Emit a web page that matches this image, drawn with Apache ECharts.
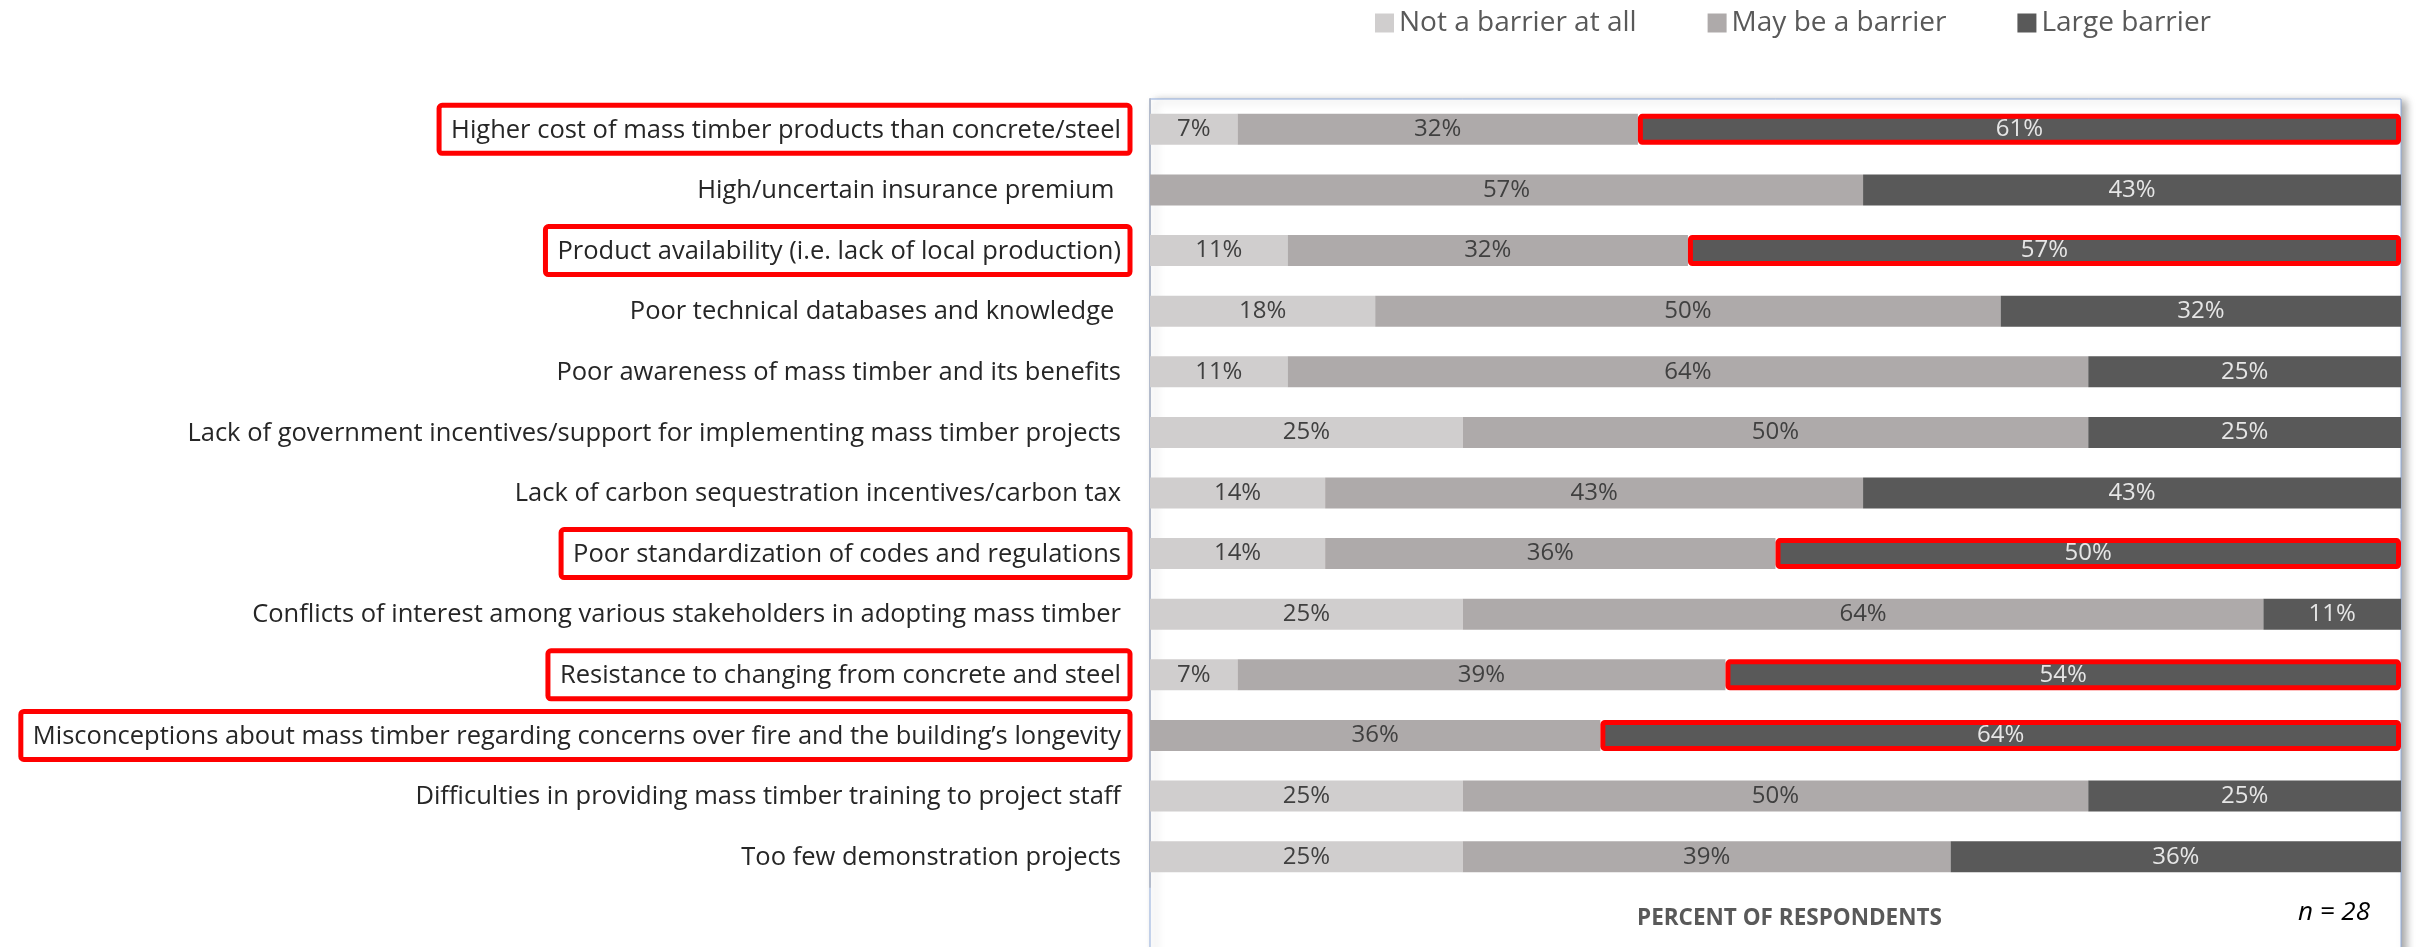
<!DOCTYPE html>
<html>
<head>
<meta charset="utf-8">
<script src="https://cdn.jsdelivr.net/npm/echarts@6/dist/echarts.min.js"></script>
<style>
  html, body { margin: 0; padding: 0; background: #fff; }
  #main { width: 2418px; height: 947px; }
</style>
</head>
<body>
<div id="main"></div>
<script>
// categories, top to bottom
const categories = [
    'Higher cost of mass timber products than concrete/steel',
    'High/uncertain insurance premium ',
    'Product availability (i.e. lack of local production)',
    'Poor technical databases and knowledge ',
    'Poor awareness of mass timber and its benefits',
    'Lack of government incentives/support for implementing mass timber projects',
    'Lack of carbon sequestration incentives/carbon tax',
    'Poor standardization of codes and regulations',
    'Conflicts of interest among various stakeholders in adopting mass timber',
    'Resistance to changing from concrete and steel',
    'Misconceptions about mass timber regarding concerns over fire and the building\u2019s longevity',
    'Difficulties in providing mass timber training to project staff',
    'Too few demonstration projects'
];
const notBarrier = [7, 0, 11, 18, 11, 25, 14, 14, 25, 7, 0, 25, 25];
const mayBarrier = [32, 57, 32, 50, 64, 50, 43, 36, 64, 39, 36, 50, 39];
const largeBarrier = [61, 43, 57, 32, 25, 25, 43, 50, 11, 54, 64, 25, 36];
// rows boxed in red in the original
const highlighted = [0, 2, 7, 9, 10];

const FONT = '"Open Sans", sans-serif';

var chart = echarts.init(document.getElementById('main'));

function pctLabel (color) {
    return {
        show: true,
        position: 'inside',
        color: color,
        fontFamily: FONT,
        fontSize: 24,
        formatter: p => p.value > 0 ? p.value + '%' : ''
    };
}

chart.setOption({
    animation: false,
    legend: {
        top: 4,
        left: 1370,
        itemWidth: 19,
        itemHeight: 19,
        itemGap: 71,
        icon: 'rect',
        textStyle: { fontFamily: FONT, fontSize: 28, color: '#595959' },
        data: ['Not a barrier at all', 'May be a barrier', 'Large barrier']
    },
    graphic: [{
        type: 'rect',
        shape: { x: 1150, y: 99, width: 1251, height: 870 },
        style: {
            fill: '#fff', stroke: '#8eaadb', lineWidth: 1,
            shadowBlur: 8, shadowOffsetX: 5, shadowOffsetY: 2, shadowColor: 'rgba(0,0,0,0.35)'
        },
        z: -1
    }, {
        type: 'text',
        left: 1637,
        top: 907,
        style: { text: 'PERCENT OF RESPONDENTS', fontFamily: FONT, fontSize: 22.5, fontWeight: 'bold', fill: '#595959' }
    }, {
        type: 'text',
        left: 2298,
        top: 900,
        style: { text: 'n = 28', fontFamily: FONT, fontSize: 26, fontStyle: 'italic', fill: '#000' }
    }],
    grid: {
        left: 1150,
        right: 17,
        top: 99,
        height: 788
    },
    xAxis: {
        type: 'value',
        min: 0,
        max: 100,
        show: false
    },
    yAxis: {
        type: 'category',
        inverse: true,
        data: categories,
        axisLine: { show: true, lineStyle: { color: '#b4bccc', width: 2 } },
        axisTick: { show: false },
        axisLabel: {
            margin: 20,
            fontFamily: FONT,
            formatter: (v, i) => (highlighted.indexOf(i) >= 0 ? '{hl|' : '{n|') + v + '}',
            rich: {
                n: {
                    fontFamily: FONT, fontSize: 25.5, color: '#262626',
                    padding: [12, 9, 10, 12], borderWidth: 5, borderColor: 'transparent'
                },
                hl: {
                    fontFamily: FONT, fontSize: 25.5, color: '#262626',
                    padding: [12, 9, 10, 12], borderWidth: 5, borderColor: '#ff0000', borderRadius: 3
                }
            }
        }
    },
    series: [{
        name: 'Not a barrier at all',
        type: 'bar',
        stack: 'total',
        barWidth: 31,
        itemStyle: { color: '#d0cece' },
        label: pctLabel('#404040'),
        data: notBarrier
    }, {
        name: 'May be a barrier',
        type: 'bar',
        stack: 'total',
        itemStyle: { color: '#aeaaaa' },
        label: pctLabel('#404040'),
        data: mayBarrier
    }, {
        name: 'Large barrier',
        type: 'bar',
        stack: 'total',
        itemStyle: { color: '#595959' },
        label: pctLabel('#e6e6e6'),
        data: largeBarrier.map((v, i) => highlighted.indexOf(i) >= 0
            ? { value: v, itemStyle: { borderColor: '#ff0000', borderWidth: 5, borderRadius: 2 } }
            : v)
    }]
});
</script>
</body>
</html>
